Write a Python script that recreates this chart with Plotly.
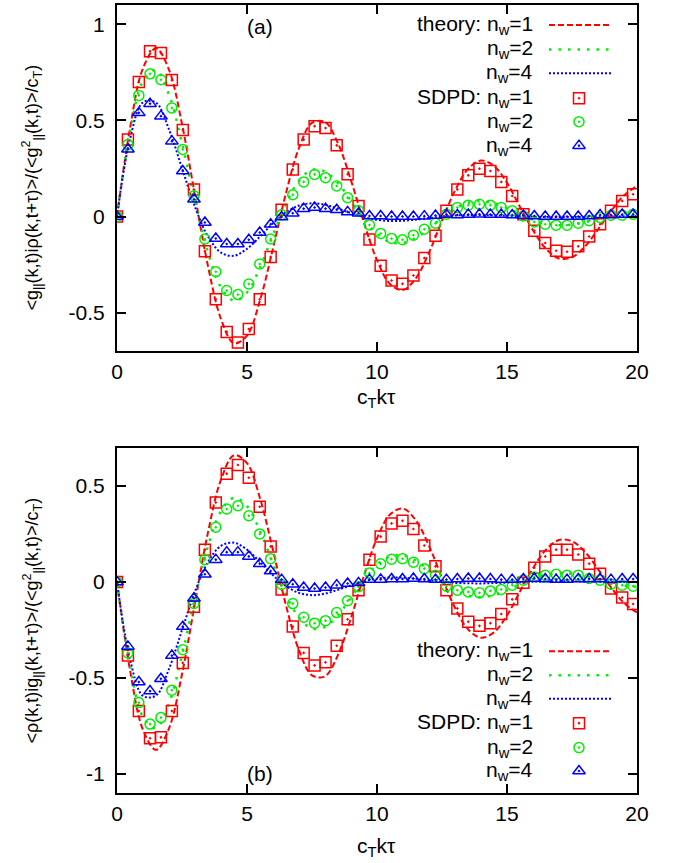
import plotly.graph_objects as go

# ---------------- data ----------------
tau_theory = [0, 0.5, 1, 1.5, 2, 2.5, 3, 3.5, 4, 4.5, 5, 5.5, 6, 6.5, 7, 7.5, 8, 8.5, 9, 9.5,
              10, 10.5, 11, 11.5, 12, 12.5, 13, 13.5, 14, 14.5, 15, 15.5, 16, 16.5, 17, 17.5,
              18, 18.5, 19, 19.5, 20]

theory_a_nw1 = [0, 0.459, 0.771, 0.875, 0.763, 0.481, 0.109, -0.258, -0.533, -0.660, -0.619,
                -0.436, -0.165, 0.122, 0.356, 0.487, 0.492, 0.380, 0.188, -0.033, -0.227,
                -0.351, -0.382, -0.320, -0.188, -0.022, 0.135, 0.247, 0.291, 0.263, 0.175,
                0.050, -0.071, -0.168, -0.218, -0.212, -0.156, -0.067, 0.028, 0.110, 0.159]
theory_a_nw2 = [0, 0.438, 0.703, 0.761, 0.634, 0.382, 0.082, -0.187, -0.368, -0.438, -0.395,
                -0.265, -0.095, 0.067, 0.186, 0.243, 0.234, 0.173, 0.082, -0.014, -0.090,
                -0.133, -0.138, -0.110, -0.062, -0.007, 0.040, 0.071, 0.080, 0.069, 0.044,
                0.012, -0.016, -0.037, -0.045, -0.042, -0.029, -0.012, 0.005, 0.018, 0.025]
theory_a_nw4 = [0, 0.403, 0.594, 0.592, 0.453, 0.251, 0.050, -0.104, -0.188, -0.204, -0.168,
                -0.104, -0.035, 0.022, 0.057, 0.069, 0.061, 0.041, 0.018, -0.003, -0.017,
                -0.023, -0.022, -0.016, -0.008, -0.001, 0.005, 0.007, 0.008, 0.006, 0.004,
                0.001, -0.001, -0.003, -0.003, -0.003, -0.002, -0.001, 0.000, 0.001, 0.001]

theory_b_nw1 = [0, -0.459, -0.771, -0.875, -0.763, -0.481, -0.109, 0.258, 0.533, 0.660, 0.619,
                0.436, 0.165, -0.122, -0.356, -0.487, -0.492, -0.380, -0.188, 0.033, 0.227,
                0.351, 0.382, 0.320, 0.188, 0.022, -0.135, -0.247, -0.291, -0.263, -0.175,
                -0.050, 0.071, 0.168, 0.218, 0.212, 0.156, 0.067, -0.028, -0.110, -0.159]
theory_b_nw2 = [0, -0.438, -0.703, -0.761, -0.634, -0.382, -0.082, 0.187, 0.368, 0.438, 0.395,
                0.265, 0.095, -0.067, -0.186, -0.243, -0.234, -0.173, -0.082, 0.014, 0.090,
                0.133, 0.138, 0.110, 0.062, 0.007, -0.040, -0.071, -0.080, -0.069, -0.044,
                -0.012, 0.016, 0.037, 0.045, 0.042, 0.029, 0.012, -0.005, -0.018, -0.025]
theory_b_nw4 = [0, -0.403, -0.594, -0.592, -0.453, -0.251, -0.050, 0.104, 0.188, 0.204, 0.168,
                0.104, 0.035, -0.022, -0.057, -0.069, -0.061, -0.041, -0.018, 0.003, 0.017,
                0.023, 0.022, 0.016, 0.008, 0.001, -0.005, -0.007, -0.008, -0.006, -0.004,
                -0.001, 0.001, 0.003, 0.003, 0.003, 0.002, 0.001, 0.000, -0.001, -0.001]

tau_sdpd = [0.00, 0.42, 0.84, 1.27, 1.69, 2.11, 2.53, 2.96, 3.38, 3.80, 4.22, 4.65, 5.07, 5.49,
            5.91, 6.33, 6.76, 7.18, 7.60, 8.02, 8.45, 8.87, 9.29, 9.71, 10.14, 10.56, 10.98,
            11.40, 11.82, 12.25, 12.67, 13.09, 13.51, 13.94, 14.36, 14.78, 15.20, 15.63, 16.05,
            16.47, 16.89, 17.31, 17.74, 18.16, 18.58, 19.00, 19.43, 19.85]

sdpd_a_nw1 = [0, 0.40, 0.70, 0.86, 0.85, 0.71, 0.45, 0.14, -0.18, -0.43, -0.60, -0.655, -0.585,
              -0.43, -0.21, 0.035, 0.245, 0.40, 0.47, 0.46, 0.37, 0.22, 0.055, -0.12, -0.256,
              -0.333, -0.35, -0.307, -0.216, -0.10, 0.03, 0.141, 0.214, 0.249, 0.237, 0.18,
              0.107, 0.012, -0.074, -0.138, -0.178, -0.183, -0.155, -0.104, -0.04, 0.03, 0.081,
              0.116]
sdpd_a_nw2 = [0, 0.375, 0.63, 0.742, 0.711, 0.565, 0.349, 0.108, -0.117, -0.287, -0.385, -0.406,
              -0.351, -0.247, -0.117, 0.009, 0.113, 0.18, 0.219, 0.202, 0.159, 0.098, 0.03,
              -0.044, -0.088, -0.114, -0.121, -0.097, -0.066, -0.035, 0.012, 0.047, 0.059, 0.064,
              0.059, 0.047, 0.03, 0.003, -0.028, -0.04, -0.045, -0.045, -0.035, -0.022, -0.005,
              0.007, 0.007, 0.012]
sdpd_a_nw4 = [0, 0.35, 0.539, 0.587, 0.522, 0.392, 0.237, 0.09, -0.031, -0.114, -0.143, -0.143,
              -0.121, -0.083, -0.04, -0.002, 0.017, 0.041, 0.047, 0.041, 0.035, 0.024, 0.017,
              0.003, 0.003, 0.0, 0.0, 0.0, 0.002, 0.005, 0.01, 0.008, 0.01, 0.012, 0.01, 0.01,
              0.008, 0.005, 0.003, 0.0, 0.0, 0.0, 0.0, 0.003, 0.008, 0.008, 0.01, 0.01]

sdpd_b_nw1 = [0, -0.384, -0.673, -0.815, -0.81, -0.673, -0.422, -0.129, 0.168, 0.414, 0.564,
              0.609, 0.543, 0.392, 0.185, -0.039, -0.233, -0.37, -0.435, -0.419, -0.333, -0.195,
              -0.043, 0.116, 0.236, 0.305, 0.319, 0.276, 0.19, 0.081, -0.043, -0.138, -0.207,
              -0.229, -0.215, -0.167, -0.091, -0.005, 0.074, 0.133, 0.168, 0.168, 0.143, 0.095,
              0.043, -0.034, -0.081, -0.115]
sdpd_b_nw2 = [0, -0.37, -0.629, -0.741, -0.707, -0.564, -0.353, -0.112, 0.116, 0.285, 0.38,
              0.397, 0.345, 0.25, 0.121, -0.013, -0.113, -0.184, -0.215, -0.202, -0.16, -0.098,
              -0.025, 0.046, 0.094, 0.118, 0.121, 0.103, 0.069, 0.035, -0.022, -0.043, -0.052,
              -0.057, -0.047, -0.039, -0.017, 0.009, 0.026, 0.035, 0.04, 0.035, 0.035, 0.018,
              0.009, -0.012, -0.017, -0.022]
sdpd_b_nw4 = [0, -0.336, -0.522, -0.569, -0.505, -0.384, -0.233, -0.085, 0.04, 0.116, 0.155,
              0.155, 0.133, 0.095, 0.057, 0.012, -0.012, -0.029, -0.034, -0.029, -0.017, -0.008,
              -0.005, 0.012, 0.013, 0.015, 0.015, 0.018, 0.015, 0.012, 0.012, 0.015, 0.018,
              0.018, 0.015, 0.012, 0.012, 0.015, 0.018, 0.015, 0.012, 0.012, 0.015, 0.015,
              0.015, 0.012, 0.015, 0.015]

x_ticks = [0, 5, 10, 15, 20]
x_ticktext = ["0", "5", "10", "15", "20"]
y_ticks_a = [-0.5, 0, 0.5, 1]
y_ticktext_a = ["-0.5", "0", "0.5", "1"]
y_ticks_b = [-1, -0.5, 0, 0.5]
y_ticktext_b = ["-1", "-0.5", "0", "0.5"]

legend_labels = ["theory: n<sub>w</sub>=1", "n<sub>w</sub>=2", "n<sub>w</sub>=4",
                 "SDPD: n<sub>w</sub>=1", "n<sub>w</sub>=2", "n<sub>w</sub>=4"]

# ---------------- styles ----------------
RED, GREEN, BLUE = "#ff0000", "#00ee00", "#0000ff"
FONT = "Liberation Sans, Arial, Helvetica, sans-serif"
FS = 21
line_styles = [dict(color=RED, width=2, dash="6px,3px"),
               dict(color=GREEN, width=2.5, dash="2.5px,7px"),
               dict(color=BLUE, width=2, dash="2px,2px")]
marker_styles = [dict(symbol="square-open-dot", size=11, color=RED, line=dict(width=1.5, color=RED)),
                 dict(symbol="circle-open-dot", size=10, color=GREEN, line=dict(width=1.5, color=GREEN)),
                 dict(symbol="triangle-up-open-dot", size=11, color=BLUE, line=dict(width=1.5, color=BLUE))]

fig = go.Figure()

panels = [("x", "y", [theory_a_nw1, theory_a_nw2, theory_a_nw4], [sdpd_a_nw1, sdpd_a_nw2, sdpd_a_nw4]),
          ("x2", "y2", [theory_b_nw1, theory_b_nw2, theory_b_nw4], [sdpd_b_nw1, sdpd_b_nw2, sdpd_b_nw4])]

for xa, ya, th, sd in panels:
    for vals, ls in zip(th, line_styles):
        fig.add_trace(go.Scatter(x=tau_theory, y=vals, mode="lines", line=dict(shape="spline", **ls),
                                 xaxis=xa, yaxis=ya, showlegend=False, hoverinfo="skip"))
    for vals, ms in zip(sd, marker_styles):
        fig.add_trace(go.Scatter(x=tau_sdpd, y=vals, mode="markers", marker=ms,
                                 xaxis=xa, yaxis=ya, showlegend=False, hoverinfo="skip"))

# ---- layout geometry (pixels) ----
L, R, T, B = 117, 42, 3, 70
W, H = 679, 863


def px(xp):
    return (xp - L) / (W - L - R)


def py(yp):
    return (H - B - yp) / (H - T - B)


# ---- manual legends (pixel overlay axis x3/y3) ----
legend_rows = {"top": [23, 47.5, 71.5, 96.5, 120, 144],
               "bottom": [651, 675, 698.5, 723, 747.5, 771]}
annotations = []
for key, rows in legend_rows.items():
    for i, (yy, lab) in enumerate(zip(rows, legend_labels)):
        annotations.append(dict(x=px(535), y=py(yy), xref="paper", yref="paper", text=lab, showarrow=False,
                                xanchor="right", yanchor="middle", font=dict(size=FS, family=FONT, color="black")))
        if i < 3:
            fig.add_trace(go.Scatter(x=[549, 611], y=[yy, yy], mode="lines", line=line_styles[i],
                                     xaxis="x3", yaxis="y3", showlegend=False, hoverinfo="skip"))
        else:
            fig.add_trace(go.Scatter(x=[579], y=[yy], mode="markers", marker=marker_styles[i - 3],
                                     xaxis="x3", yaxis="y3", showlegend=False, hoverinfo="skip"))

# titles
ytitle_a = "&lt;g<sub>||</sub>(k,t)iρ(k,t+τ)&gt;/(&lt;g<sup>2</sup><sub>||</sub>(k,t)&gt;/c<sub>T</sub>)"
ytitle_b = "&lt;ρ(k,t)ig<sub>||</sub>(k,t+τ)&gt;/(&lt;g<sup>2</sup><sub>||</sub>(k,t)&gt;/c<sub>T</sub>)"
xtitle = "c<sub>T</sub>kτ"
tfont = dict(size=FS, family=FONT, color="black")
annotations += [
    dict(x=px(32), y=py(186), xref="paper", yref="paper", text=ytitle_a, textangle=-90, showarrow=False,
         xanchor="center", yanchor="middle", font=dict(size=18, family=FONT, color="black")),
    dict(x=px(32), y=py(620), xref="paper", yref="paper", text=ytitle_b, textangle=-90, showarrow=False,
         xanchor="center", yanchor="middle", font=dict(size=18, family=FONT, color="black")),
    dict(x=px(376), y=py(397), xref="paper", yref="paper", text=xtitle, showarrow=False,
         xanchor="center", yanchor="middle", font=tfont),
    dict(x=px(376), y=py(847), xref="paper", yref="paper", text=xtitle, showarrow=False,
         xanchor="center", yanchor="middle", font=tfont),
    dict(x=5.5, y=0.99, xref="x", yref="y", text="(a)", showarrow=False, font=tfont),
    dict(x=5.5, y=-1.0, xref="x2", yref="y2", text="(b)", showarrow=False, font=tfont),
]

plot_h = H - T - B
dom_a = [(H - B - 350) / plot_h, 1]
dom_b = [0, (H - B - 446.7) / plot_h]

axis_common = dict(showline=True, linecolor="black", linewidth=2, mirror="allticks",
                   ticks="inside", ticklen=9, tickwidth=1.5, tickcolor="black",
                   showgrid=False, zeroline=False,
                   tickfont=dict(size=FS, family=FONT, color="black"))

fig.update_layout(
    width=W, height=H,
    margin=dict(l=L, r=R, t=T, b=B, pad=0),
    paper_bgcolor="white", plot_bgcolor="rgba(0,0,0,0)",
    showlegend=False,
    xaxis=dict(domain=[0, 1], range=[0, 20], tickvals=x_ticks, ticktext=x_ticktext, anchor="y",
               ticklabelstandoff=1, **axis_common),
    yaxis=dict(domain=dom_a, range=[-0.7, 1.1], tickvals=y_ticks_a, ticktext=y_ticktext_a, anchor="x",
               ticklabelstandoff=6, **axis_common),
    xaxis2=dict(domain=[0, 1], range=[0, 20], tickvals=x_ticks, ticktext=x_ticktext, anchor="y2",
                ticklabelstandoff=1, **axis_common),
    yaxis2=dict(domain=dom_b, range=[-1.1, 0.7], tickvals=y_ticks_b, ticktext=y_ticktext_b, anchor="x2",
                ticklabelstandoff=6, **axis_common),
    xaxis3=dict(domain=[0, 1], range=[L, W - R], visible=False, anchor="y3", fixedrange=True),
    yaxis3=dict(domain=[0, 1], range=[H - B, T], visible=False, anchor="x3", fixedrange=True),
    annotations=annotations,
)

fig.write_html("out.html")
